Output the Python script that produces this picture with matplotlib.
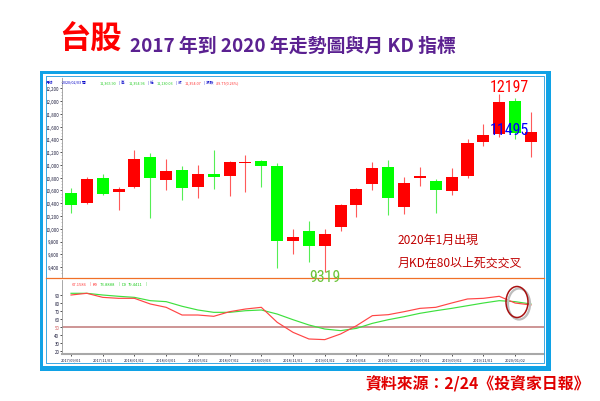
import matplotlib
matplotlib.use('Agg')
import matplotlib.pyplot as plt
from matplotlib.patches import Rectangle, Ellipse
from matplotlib.lines import Line2D
from matplotlib import font_manager
import numpy as np

# ---------------- data ----------------
tick_labels = ['2017/09/01', '2017/11/01', '2018/01/02', '2018/03/01', '2018/05/02',
               '2018/07/02', '2018/09/03', '2018/11/01', '2019/01/02', '2019/03/04',
               '2019/05/02', '2019/07/01', '2019/09/02', '2019/11/01', '2020/01/02']
price_ticks = [9400, 9600, 9800, 10000, 10200, 10400, 10600, 10800, 11000,
               11200, 11400, 11600, 11800, 12000, 12200]
kd_ticks = [20, 30, 40, 50, 60, 70, 80, 90]

opens  = [10561, 10404, 10796, 10577, 10655, 11126, 10765, 10922, 10655, 10859,
          10828, 11032, 11063, 10985, 9808, 9965, 9729, 10028, 10373, 10702,
          10969, 10341, 10800, 10749, 10592, 10828, 11361, 11487, 12005, 11361]
highs  = [10640, 10812, 10859, 10655, 11236, 11189, 11094, 10985, 11000, 11236,
          11063, 11157, 11079, 11032, 9996, 10122, 9996, 10388, 10640, 11047,
          11079, 10812, 10969, 10780, 10953, 11408, 11644, 12114, 12052, 11832]
lows   = [10247, 10390, 10530, 10294, 10640, 10169, 10608, 10451, 10483, 10624,
          10514, 10577, 10655, 9384, 9604, 9478, 9319, 9965, 10184, 10608,
          10216, 10230, 10671, 10250, 10530, 10796, 11298, 11440, 11408, 11126]
closes = [10373, 10781, 10545, 10624, 11094, 10796, 10906, 10640, 10859, 10812,
          11047, 11040, 10985, 9808, 9871, 9729, 9918, 10373, 10624, 10953,
          10483, 10718, 10812, 10608, 10812, 11346, 11471, 11989, 11495, 11518]

k_values = [89.5, 91.6, 86.6, 85.4, 85.4, 78.4, 74.3, 64.8, 64.8, 63.2,
            68.9, 72.2, 74.3, 55.8, 43.4, 35.2, 34.4, 41.4, 51.6, 64.0,
            65.2, 68.9, 73.0, 74.3, 79.6, 84.6, 85.4, 87.9, 79.6, 77.2]
d_values = [91.6, 91.6, 89.5, 87.9, 86.6, 82.5, 81.3, 75.6, 71.0, 68.1,
            68.1, 70.1, 71.0, 66.0, 59.0, 52.5, 47.5, 45.5, 48.3, 54.5,
            59.0, 62.7, 66.9, 70.1, 73.0, 76.3, 79.6, 82.5, 81.3, 78.4]

# ---------------- fonts ----------------
plt.rcParams['font.family'] = ['Noto Sans CJK TC', 'DejaVu Sans']
names = {f.name for f in font_manager.fontManager.ttflist}
narrow = 'Liberation Sans'
for cand in ['Liberation Sans Narrow', 'DejaVu Sans Condensed', 'Roboto Condensed']:
    if cand in names:
        narrow = cand
        break
num_size = 13 if narrow == 'Liberation Sans Narrow' else 11.5

# ---------------- geometry helpers ----------------
W, H = 600, 402
fig = plt.figure(figsize=(6, 4.02), dpi=100)
fig.patch.set_facecolor('white')

def box(x0, y0, x1, y1):
    return [x0 / W, 1 - y1 / H, (x1 - x0) / W, (y1 - y0) / H]

def fx(x):
    return x / W

def fy(y):
    return 1 - y / H

def frect(x0, y0, x1, y1, color):
    fig.add_artist(Rectangle((fx(x0), fy(y1)), (x1 - x0) / W, (y1 - y0) / H,
                             transform=fig.transFigure, facecolor=color,
                             edgecolor='none', zorder=0))

def fline(xs, ys, color, lw, **kw):
    fig.add_artist(Line2D([fx(v) for v in xs], [fy(v) for v in ys],
                          transform=fig.transFigure, color=color, lw=lw, **kw))

# ---------------- frame ----------------
blue = '#10a2e6'
frect(40, 72, 551, 75, blue)
frect(40, 72, 43, 372, blue)
frect(546, 72, 551, 372, blue)
frect(40, 367, 551, 372, blue)
fline([46, 544, 544, 46, 46], [77, 77, 364, 364, 77], '#3aa8e4', 0.7)

# ---------------- x mapping ----------------
n = len(opens)
xs = np.arange(n)
step = 15.86
x0px = 71.0
xlim = ((62 - x0px) / step, (544 - x0px) / step)

# ---------------- price panel ----------------
PX = 200 / 12.75
def price_at(ypx):
    return 9400 + (268 - ypx) * PX

ax1 = fig.add_axes(box(62, 78, 544, 278))
ax1.set_facecolor('none')
ax1.set_xlim(*xlim)
ax1.set_ylim(price_at(278), price_at(78))

o = np.array(opens, float); c = np.array(closes, float)
hi = np.array(highs, float); lo = np.array(lows, float)
cols = ['#ff0000' if cc >= oo else '#00ff00' for oo, cc in zip(o, c)]
wick_cols = ['#ff5a5a' if cc >= oo else '#55ee55' for oo, cc in zip(o, c)]
bottoms = np.minimum(o, c)
heights = np.maximum(np.abs(c - o), 22)
ax1.vlines(xs, lo, hi, colors=wick_cols, lw=0.8, zorder=2)
ax1.bar(xs, heights, bottom=bottoms, width=0.757, color=cols, lw=0, zorder=3)

ax1.set_yticks(price_ticks)
ax1.set_yticklabels([f'{v:,}' for v in price_ticks])
ax1.set_yticks(np.arange(9300, 12350, 50), minor=True)
ax1.tick_params(axis='y', which='major', labelsize=3.2, length=1.3, width=0.6,
                color='#333333', labelcolor='#1a1a3a', pad=0.6)
ax1.tick_params(axis='y', which='minor', length=0.7, width=0.4, color='#888888')
ax1.set_xticks([])
for s in ['top', 'right', 'bottom']:
    ax1.spines[s].set_visible(False)
ax1.spines['left'].set_color('#9a9a9a')
ax1.spines['left'].set_linewidth(0.6)
ax1.spines['left'].set_linestyle((0, (1, 1)))

# separator
fline([46, 544], [279, 279], '#f07028', 0.9)

# ---------------- KD panel ----------------
def kd_at(ypx):
    return 50 + (328 - ypx) * 10 / 8.1

ax2 = fig.add_axes(box(62, 281, 544, 355))
ax2.set_facecolor('none')
ax2.set_xlim(*xlim)
ax2.set_ylim(kd_at(355), kd_at(281))
ax2.axhline(50, color='#c98c8c', lw=1.3, zorder=1)
ax2.plot(xs, d_values, color='#3ee03e', lw=0.85, zorder=3)
ax2.plot(xs, k_values, color='#ff4545', lw=0.85, zorder=4)
ax2.set_yticks(kd_ticks)
ax2.set_yticklabels([str(v) for v in kd_ticks])
ax2.tick_params(axis='y', labelsize=3.2, length=1.3, width=0.6, color='#333333',
                labelcolor='#1a1a3a', pad=0.6)
for lab in ax2.get_yticklabels():
    if lab.get_text() == '50':
        lab.set_color('#d05a5a')
ax2.set_xticks(xs[::2])
ax2.set_xticklabels(tick_labels)
ax2.tick_params(axis='x', labelsize=2.8, length=1.6, width=0.6, color='#333333',
                labelcolor='#1a1a3a', pad=1.0)
for s in ['top', 'right']:
    ax2.spines[s].set_visible(False)
ax2.spines['bottom'].set_color('#a8a8a8')
ax2.spines['bottom'].set_linewidth(1.5)
ax2.spines['left'].set_color('#9a9a9a')
ax2.spines['left'].set_linewidth(0.6)
ax2.spines['left'].set_linestyle((0, (1, 1)))

# ---------------- header texts inside chart ----------------
hy = fy(83)
hs = 2.7
hdr = [(46, '月線', '#0000c8'), (62, '2020/02/03 開', '#0000c8'),
       (100, '11,365.90', '#22cc22'), (119, '| 高', '#0000c8'),
       (128.5, '11,354.96', '#22cc22'), (148, '| 低', '#0000c8'),
       (157, '11,130.03', '#22cc22'), (176, '| 收', '#0000c8'),
       (185, '11,354.07', '#ff3030'), (204, '| 漲跌', '#0000c8'),
       (216, '-29.77(0.26%)', '#ff3030')]
for xp, t, col in hdr:
    fig.text(fx(xp), hy, t, color=col, fontsize=hs, va='center', ha='left')

ly = fy(284.5)
leg = [(72, '67.1586', '#ff4040'), (90, '|', '#ff4040'), (92.5, 'K9', '#ff2020'),
       (100, '73.8888', '#22cc22'), (119, '|', '#22cc22'), (121.5, 'D9', '#22cc22'),
       (127.5, '79.4411', '#22cc22'), (146, '|', '#22cc22')]
for xp, t, col in leg:
    fig.text(fx(xp), ly, t, color=col, fontsize=3.0, va='center', ha='left')

# ---------------- annotations ----------------
fig.text(fx(509.5), fy(88), '12197', color='#ff0000', fontsize=num_size,
         family=narrow, ha='center', va='center')
fig.text(fx(509.5), fy(130.5), '11495', color='#0000ff', fontsize=num_size,
         family=narrow, ha='center', va='center')
fig.text(fx(324.5), fy(277.5), '9319', color='#6cc43a', fontsize=num_size,
         family=narrow, ha='center', va='center')

fig.text(fx(398), fy(240), '2020年1月出現', color='#c00000', fontsize=8.6,
         ha='left', va='center')
fig.text(fx(398), fy(263.5), '月KD在80以上死交交叉', color='#c00000', fontsize=8.6,
         ha='left', va='center')

# circle marking the cross
fig.add_artist(Ellipse((fx(519), fy(305)), 22 / W, 31 / H, transform=fig.transFigure,
                       facecolor='none', edgecolor='#bdbdbd', lw=1.6))
fig.add_artist(Ellipse((fx(517), fy(303)), 22 / W, 31 / H, transform=fig.transFigure,
                       facecolor='none', edgecolor='#a81010', lw=1.1))

# ---------------- title / source ----------------
fig.text(fx(59), fy(40), '台股', color='#ff0000', fontsize=22.5, fontweight='bold',
         ha='left', va='center')
fig.text(fx(130), fy(46), '2017 年到 2020 年走勢圖與月 KD 指標', color='#5b2191',
         fontsize=13.6, fontweight='bold', ha='left', va='center')
fig.text(fx(590), fy(384.5), '資料來源：2/24《投資家日報》', color='#e00000',
         fontsize=11.4, fontweight='bold', ha='right', va='center')

fig.savefig('out.png', dpi=100, facecolor='white')
